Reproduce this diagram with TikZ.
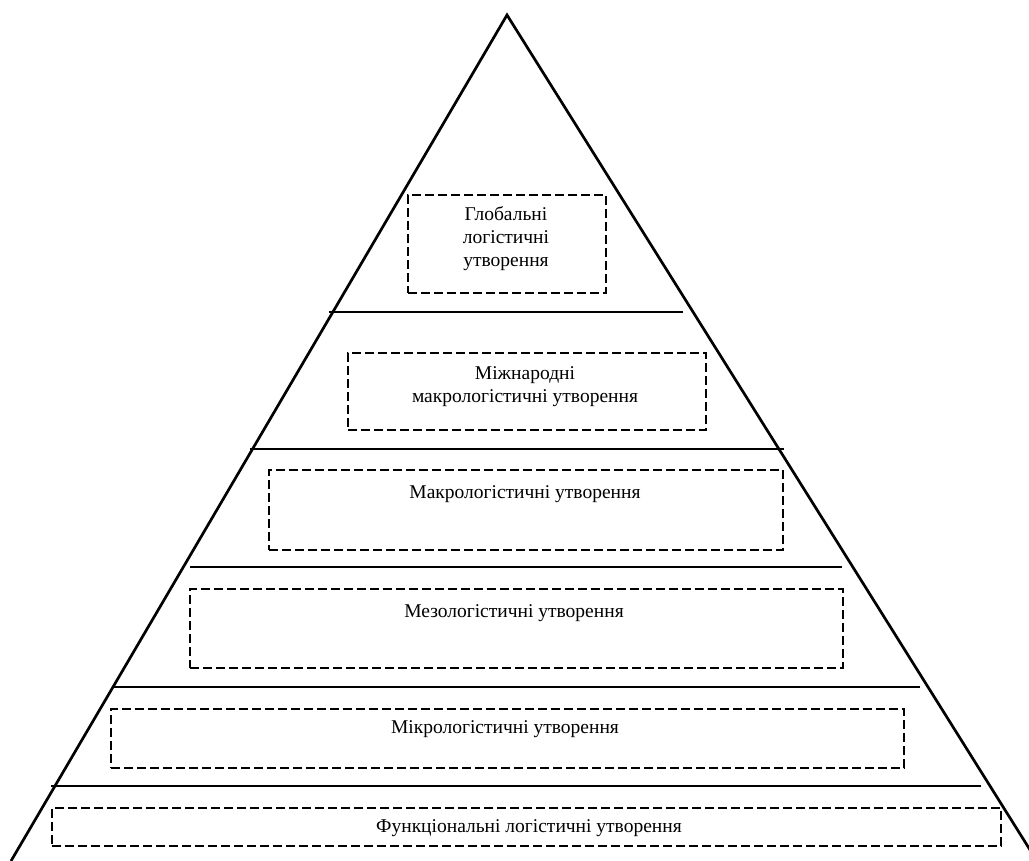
\documentclass[tikz,border=0pt]{standalone}
\usepackage{fontspec}
\setmainfont{Liberation Serif}
\begin{document}
\begin{tikzpicture}[x=1pt,y=-1pt,
  side/.style={line width=2.7pt},
  level/.style={line width=2.9pt},
  box/.style={draw,dashed,dash pattern=on 9pt off 4pt,line width=2.4pt,inner sep=0pt,anchor=north west},
  lbl/.style={font=\fontsize{19.5}{23}\selectfont,align=center,inner sep=0pt}]
\useasboundingbox (0,0) rectangle (1029,861);
\clip (0,0) rectangle (1029,861);
% pyramid
\coordinate (apex) at (507,15);
\coordinate (bl) at (11,861);
\coordinate (br) at (1037,861);
\draw[side,line join=miter] (bl) -- (apex) -- (br);
% level lines
\foreach \n/\y/\xa/\xb in {1/312/329/683, 2/449/250/784, 3/567/190/842, 4/687/113/920, 5/786/51/981}{
  \coordinate (l\n a) at (\xa,\y);
  \coordinate (l\n b) at (\xb,\y);
  \draw[level] (l\n a) -- (l\n b);
}
% boxes
\node[box,minimum width=198pt,minimum height=98pt] (b1) at (407,194) {};
\node[box,minimum width=358pt,minimum height=77pt] (b2) at (347,352) {};
\node[box,minimum width=514pt,minimum height=80pt] (b3) at (268,469) {};
\node[box,minimum width=653pt,minimum height=79pt] (b4) at (189,588) {};
\node[box,minimum width=793pt,minimum height=59pt] (b5) at (110,708) {};
\node[box,minimum width=949pt,minimum height=38pt] (b6) at (51,807) {};
% labels
\node[lbl] (t1) at (506,239) {Глобальні\\логістичні\\утворення};
\node[lbl] (t2) at (525,387) {Міжнародні\\макрологістичні утворення};
\node[lbl] (t3) at (525,494) {Макрологістичні утворення};
\node[lbl] (t4) at (514,613) {Мезологістичні утворення};
\node[lbl] (t5) at (505,729) {Мікрологістичні утворення};
\node[lbl] (t6) at (529,828) {Функціональні логістичні утворення};
\end{tikzpicture}
\end{document}
